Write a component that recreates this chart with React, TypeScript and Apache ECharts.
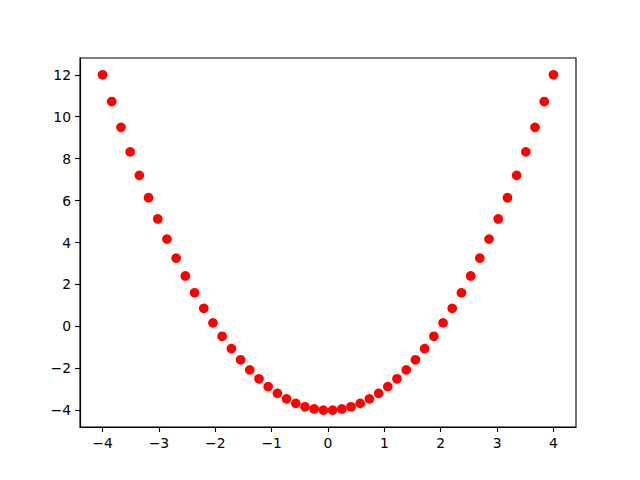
import React, { useEffect, useRef } from "react";
import * as echarts from "echarts";

const xValues = [
  -4.0, -3.837, -3.673, -3.51, -3.347, -3.184, -3.02, -2.857, -2.694, -2.531,
  -2.367, -2.204, -2.041, -1.878, -1.714, -1.551, -1.388, -1.224, -1.061, -0.898,
  -0.735, -0.571, -0.408, -0.245, -0.082, 0.082, 0.245, 0.408, 0.571, 0.735,
  0.898, 1.061, 1.224, 1.388, 1.551, 1.714, 1.878, 2.041, 2.204, 2.367,
  2.531, 2.694, 2.857, 3.02, 3.184, 3.347, 3.51, 3.673, 3.837, 4.0,
];
const yValues = [
  12.0, 10.722, 9.493, 8.321, 7.202, 6.136, 5.123, 4.163, 3.257, 2.404,
  1.604, 0.858, 0.165, -0.474, -1.061, -1.594, -2.074, -2.501, -2.874, -3.194,
  -3.46, -3.673, -3.833, -3.94, -3.993, -3.993, -3.94, -3.833, -3.673, -3.46,
  -3.194, -2.874, -2.501, -2.074, -1.594, -1.061, -0.474, 0.165, 0.858, 1.604,
  2.404, 3.257, 4.163, 5.123, 6.136, 7.202, 8.321, 9.493, 10.722, 12.0,
];
const xTicks = [-4, -3, -2, -1, 0, 1, 2, 3, 4];
const yTicks = [-4, -2, 0, 2, 4, 6, 8, 10, 12];

const fmt = (v: number) => String(v).replace("-", "\u2212");

export default function App() {
  const ref = useRef<HTMLDivElement>(null);
  useEffect(() => {
    if (!ref.current) return;
    const chart = echarts.init(ref.current, null, { renderer: "svg" });
    const axisCommon = {
      axisLine: { show: true, onZero: false, lineStyle: { color: "#000", width: 1.1 } },
      axisTick: { show: true, inside: false, length: 5, lineStyle: { color: "#000", width: 1.1 } },
      splitLine: { show: false },
    };
    chart.setOption({
      animation: false,
      backgroundColor: "#fff",
      textStyle: { fontFamily: "DejaVu Sans" },
      grid: {
        left: 80,
        right: 64,
        top: 58,
        bottom: 53,
        show: true,
        borderColor: "#000",
        borderWidth: 1.1,
        backgroundColor: "transparent",
      },
      xAxis: {
        type: "value",
        min: -4.4,
        max: 4.4,
        ...axisCommon,
        axisTick: { ...axisCommon.axisTick, customValues: xTicks },
        axisLabel: {
          customValues: xTicks,
          formatter: (v: number) => fmt(v),
          color: "#000",
          fontSize: 13.9,
          fontFamily: "DejaVu Sans",
          margin: 9,
        },
      },
      yAxis: {
        type: "value",
        min: -4.8,
        max: 12.8,
        ...axisCommon,
        axisTick: { ...axisCommon.axisTick, customValues: yTicks },
        axisLabel: {
          customValues: yTicks,
          formatter: (v: number) => fmt(v),
          color: "#000",
          fontSize: 13.9,
          fontFamily: "DejaVu Sans",
          margin: 9,
        },
      },
      series: [
        {
          type: "scatter",
          data: xValues.map((x, i) => [x, yValues[i]]),
          symbol: "circle",
          symbolSize: 9.7,
          itemStyle: { color: "#ff0000", opacity: 1 },
        },
      ],
    });
    return () => chart.dispose();
  }, []);
  return (
    <div
      ref={ref}
      style={{ position: "absolute", left: 0, top: 0, width: 640, height: 480 }}
    />
  );
}
